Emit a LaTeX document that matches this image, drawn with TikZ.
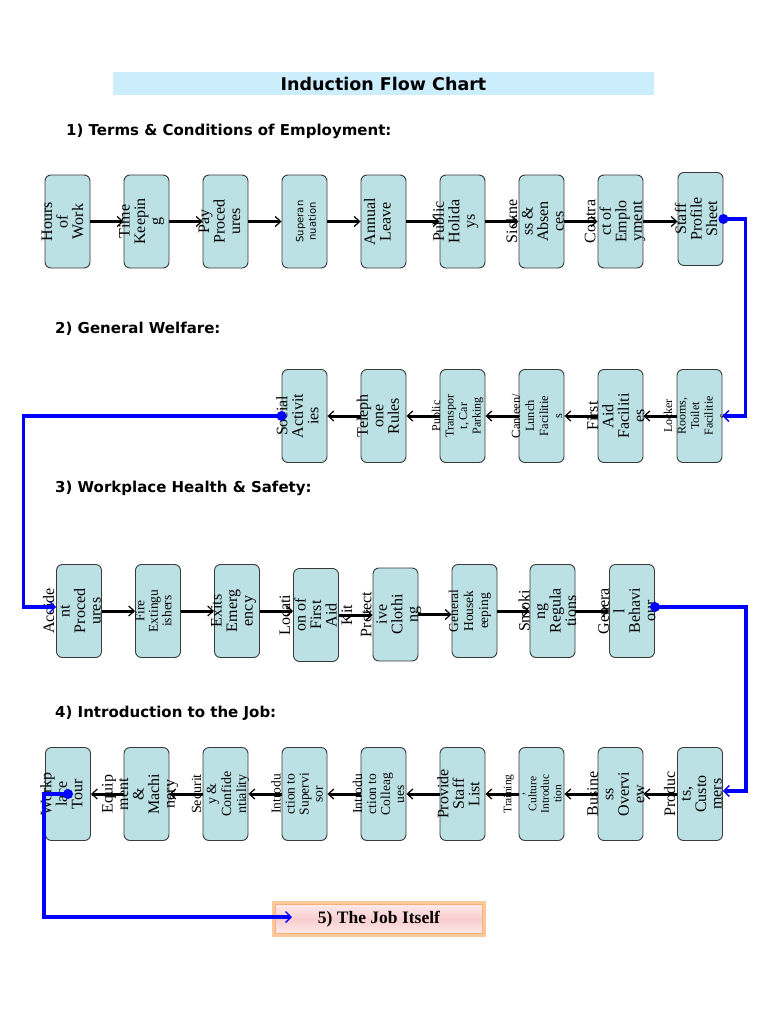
\documentclass[tikz,border=0pt]{standalone}
\usepackage{fontspec}
\setmainfont{Liberation Serif}
\newfontfamily\headfont{DejaVu Sans}
\usetikzlibrary{arrows.meta}
\definecolor{boxfill}{HTML}{BCE1E4}
\definecolor{boxline}{HTML}{3A3A3A}
\definecolor{titlebg}{HTML}{CCEEFC}
\definecolor{jobband}{HTML}{FAC99A}
\definecolor{jobline}{HTML}{F4B27A}
\definecolor{jobedge}{HTML}{FFEDED}
\definecolor{jobmid}{HTML}{F9CDCF}
\definecolor{flowblue}{HTML}{0000FF}
\newcommand\sz[2]{\fontsize{#1}{#2}\selectfont}
\newcommand\bx[6]{%
  \node[ibox] (#1) at (#2,#3) {};
  \node[btext, font=#5] (#1t) at ({#2+#4},#3) {#6};
}
\tikzset{
  ibox/.style={draw=boxline, fill=boxfill, rounded corners=6pt, minimum width=45pt, minimum height=93pt, inner sep=0pt, line width=0.9pt},
  btext/.style={rotate=90, align=center, inner sep=0pt, text=black},
  arr/.style={line width=3pt, -{Straight Barb[length=5.5pt, width=10pt, line width=1.2pt]}},
  blu/.style={draw=flowblue, line width=3.2pt, -{Straight Barb[length=5.5pt, width=11pt, line width=1.4pt]}},
  head/.style={font=\headfont\bfseries\sz{15}{17}, anchor=west, inner sep=0pt},
}
\begin{document}
\begin{tikzpicture}[x=1pt,y=-1pt]
\useasboundingbox (0,0) rectangle (768,1024);
\fill[white] (0,0) rectangle (768,1024);

\node[fill=titlebg, minimum width=541pt, minimum height=23pt, inner sep=0pt, font=\headfont\bfseries\sz{17.5}{19}] (title) at (383.5,83.5) {Induction Flow Chart};
\node[head] (h1) at (66,131) {1) Terms \& Conditions of Employment:};
\node[head] (h2) at (55,329) {2) General Welfare:};
\node[head] (h3) at (55,488) {3) Workplace Health \& Safety:};
\node[head] (h4) at (55,713) {4) Introduction to the Job:};

% Row 1
\bx{hw}{67.5}{221.5}{-5}{\sz{16}{15.5}}{Hours\\of\\Work}
\bx{tk}{146.5}{221.5}{-5}{\sz{16}{15.5}}{Time\\Keepin\\g}
\bx{pp}{225.5}{221.5}{-6}{\sz{16}{15.5}}{Pay\\Proced\\ures}
\bx{su}{304.5}{221.5}{1.5}{\headfont\sz{10}{12.5}}{Superan\\nuation}
\bx{al}{383.5}{221.5}{-6}{\sz{16}{15.5}}{Annual\\Leave}
\bx{ph}{462.5}{221.5}{-7}{\sz{16}{15.5}}{Public\\Holida\\ys}
\bx{sa}{541.5}{221.5}{-6.5}{\sz{16}{15.5}}{Sickne\\ss \&\\Absen\\ces}
\bx{ce}{620.5}{221.5}{-5.5}{\sz{16}{15.5}}{Contra\\ct of\\Emplo\\yment}
\bx{sp}{700.5}{219}{-4.5}{\sz{16}{15.5}}{Staff\\Profile\\Sheet}

% Row 2
\bx{so}{304.5}{416}{-7}{\sz{16}{15.5}}{Social\\Activit\\ies}
\bx{tr}{383.5}{416}{-5.5}{\sz{16}{15.5}}{Teleph\\one\\Rules}
\bx{pt}{462.5}{416}{-5}{\sz{12}{13.5}}{Public\\Transpor\\t, Car\\Parking}
\bx{cl}{541.5}{416}{-4.5}{\sz{12.5}{14}}{Canteen/\\Lunch\\Facilitie\\s}
\bx{fa}{620.5}{416}{-4.5}{\sz{16}{15.5}}{First\\Aid\\Faciliti\\es}
\bx{lr}{699.5}{416}{-4.5}{\sz{12}{13.5}}{Locker\\Rooms,\\Toilet\\Facilitie\\s}

% Row 3
\bx{ac}{79}{611}{-7}{\sz{16}{15.5}}{Accide\\nt\\Proced\\ures}
\bx{fe}{158}{611}{-4.5}{\sz{13.5}{13.5}}{Fire\\Extingu\\ishers}
\bx{ex}{237}{611}{-3.5}{\sz{16}{15.5}}{Exits\\Emerg\\ency}
\bx{lo}{316}{615}{0}{\sz{16}{15.5}}{Locati\\on of\\First\\Aid\\Kit}
\bx{pc}{395.5}{614.5}{-4.5}{\sz{16}{15.5}}{Protect\\ive\\Clothi\\ng}
\bx{gh}{474.5}{611}{-4.5}{\sz{13.5}{15}}{General\\Housek\\eeping}
\bx{sr}{552.5}{611}{-5}{\sz{16}{15.5}}{Smoki\\ng\\Regula\\tions}
\bx{gb}{632}{611}{-5}{\sz{16}{15.5}}{Genera\\l\\Behavi\\our}

% Row 4
\bx{wt}{68}{794}{-6.5}{\sz{16}{15.5}}{Workp\\lace\\Tour}
\bx{em}{146.5}{794}{-6.5}{\sz{16}{15.5}}{Equip\\ment\\\&\\Machi\\nery}
\bx{sc}{225.5}{794}{-5}{\sz{14}{15}}{Securit\\y \&\\Confide\\ntiality}
\bx{is}{304.5}{794}{-7.5}{\sz{13.5}{14}}{Introdu\\ction to\\Supervi\\sor}
\bx{ic}{383.5}{794}{-5}{\sz{13.5}{14}}{Introdu\\ction to\\Colleag\\ues}
\bx{ps}{462.5}{794}{-4}{\sz{16}{15.5}}{Provide\\Staff\\List}
\bx{tc}{541.5}{794}{-9}{\sz{11.5}{12.5}}{Training\\,\\Culture\\Introduc\\tion}
\bx{bo}{620.5}{794}{-4.5}{\sz{16}{15.5}}{Busine\\ss\\Overvi\\ew}
\bx{pr}{700}{794}{-7}{\sz{16}{15.5}}{Produc\\ts,\\Custo\\mers}

% black arrows
\foreach \a/\b in {hw/tk,tk/pp,pp/su,su/al,al/ph,ph/sa,sa/ce,ce/sp,
                   ac/fe,fe/ex,ex/lo,lo/pc,pc/gh,gh/sr,sr/gb}
  \draw[arr] (\a.east) -- (\a.east -| \b.west);
\foreach \a/\b in {lr/fa,fa/cl,cl/pt,pt/tr,tr/so,
                   pr/bo,bo/tc,tc/ps,ps/ic,ic/is,is/sc,sc/em,em/wt}
  \draw[arr] (\a.west) -- (\a.west -| \b.east);

% final box
\node[draw=jobband, line width=3pt, minimum width=211pt, minimum height=33pt, inner sep=0pt,
      top color=jobedge, bottom color=jobedge, middle color=jobmid,
      font=\bfseries\sz{17.5}{19}] (job) at (379,919) {5) The Job Itself};
\draw[jobline, line width=0.7pt] ([shift={(3.5,3.5)}]job.north west) rectangle ([shift={(-3.5,-3.5)}]job.south east);

% blue connectors
\fill[flowblue] (sp.east) circle (5);
\draw[blu] (sp.east) -- ++(22,0) |- (lr.east);
\fill[flowblue] (so.west) circle (5);
\draw[blu] (so.west) -- ++(-258,0) |- ([shift={(0,-4)}]ac.west);
\fill[flowblue] ([shift={(0,-4)}]gb.east) circle (5);
\draw[blu] ([shift={(0,-4)}]gb.east) -- ++(91,0) |- ([shift={(0,-3)}]pr.east);
\fill[flowblue] (wt.center) circle (5);
\draw[blu] (wt.center) -- ++(-24,0) |- ([shift={(20,-2)}]job.west);
\end{tikzpicture}
\end{document}
